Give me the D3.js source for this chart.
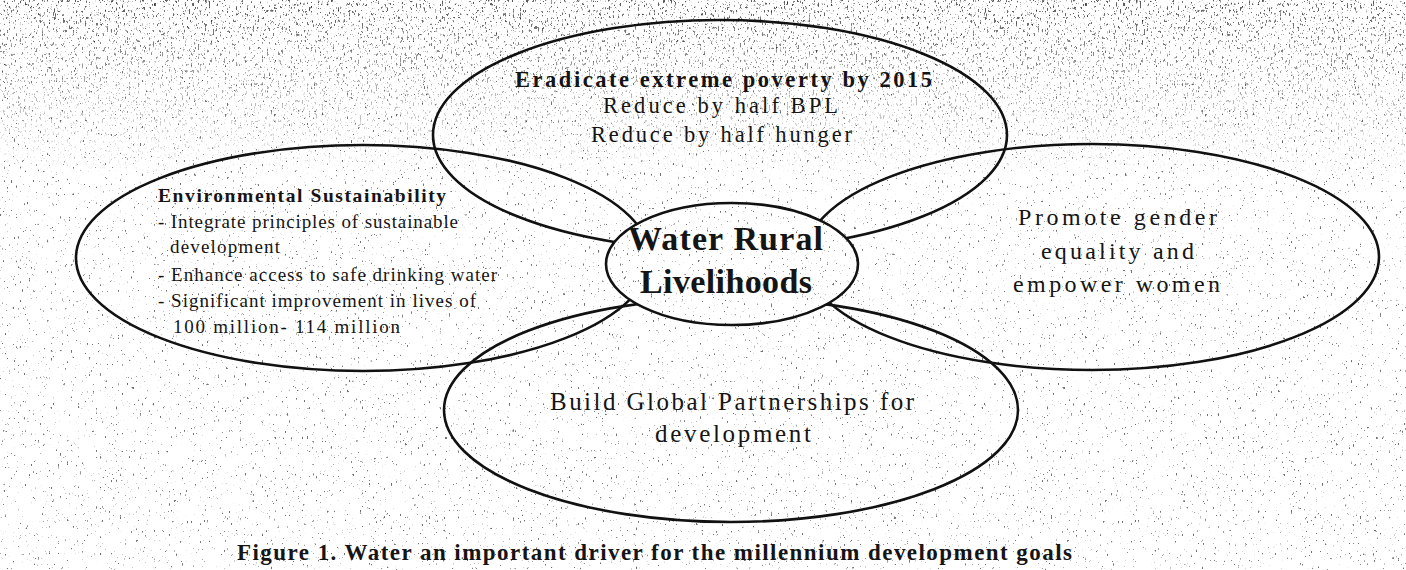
<!DOCTYPE html>
<html>
<head>
<meta charset="utf-8">
<script src="https://cdn.jsdelivr.net/npm/d3@7"></script>
<style>
  html, body { margin: 0; background: #fff; }
  svg { display: block; }
</style>
</head>
<body>
<div id="chart"></div>
<script>
// the four goal ellipses round the hub (diagram units = px of the scan)
const goals = ['poverty', 'environment', 'gender', 'partnership'];
const goalCx = [720, 363, 1092, 731];
const goalCy = [135, 258, 257, 410];
const goalRx = [287, 287, 287, 287];
const goalRy = [115, 113, 113, 112];

const hub = { cx: 732, cy: 264, rx: 126, ry: 61 };

const hubText = ['Water Rural', 'Livelihoods'];
const povertyText = ['Eradicate extreme poverty by 2015', 'Reduce by half BPL', 'Reduce by half hunger'];
const environmentText = [
  'Environmental Sustainability',
  '- Integrate principles of sustainable',
  'development',
  '- Enhance access to safe drinking water',
  '- Significant improvement in lives of',
  '100 million- 114 million'
];
const genderText = ['Promote gender', 'equality and', 'empower women'];
const partnershipText = ['Build Global Partnerships for', 'development'];
const caption = 'Figure 1. Water an important driver for the millennium development goals';

const width = 1406;
const height = 570;

const x = d3.scaleLinear().domain([0, 1406]).range([0, width]);
const y = d3.scaleLinear().domain([0, 570]).range([0, height]);

const svg = d3.select('#chart')
  .append('svg')
  .attr('width', width)
  .attr('height', height)
  .attr('viewBox', `0 0 ${width} ${height}`);

// scan speckle texture
const defs = svg.append('defs');
function speckFilter(id, seed, slope, cut) {
  const f = defs.append('filter').attr('id', id)
    .attr('filterUnits', 'userSpaceOnUse')
    .attr('x', 0).attr('y', 0).attr('width', width).attr('height', height);
  f.append('feTurbulence')
    .attr('type', 'fractalNoise')
    .attr('baseFrequency', '0.55 0.3')
    .attr('numOctaves', 2)
    .attr('seed', seed)
    .attr('result', 'n');
  f.append('feColorMatrix')
    .attr('in', 'n')
    .attr('type', 'matrix')
    .attr('values', '0 0 0 0 0  0 0 0 0 0  0 0 0 0 0  1 0 0 0 0');
  f.append('feComponentTransfer')
    .append('feFuncA')
    .attr('type', 'linear')
    .attr('slope', slope)
    .attr('intercept', -slope * cut);
}
speckFilter('speck', 7, 12, 0.70);
speckFilter('speckTop', 19, 12, 0.63);

const grad = defs.append('linearGradient').attr('id', 'topFade')
  .attr('x1', 0).attr('y1', 0).attr('x2', 0).attr('y2', 1);
grad.append('stop').attr('offset', 0).attr('stop-color', '#fff').attr('stop-opacity', 1);
grad.append('stop').attr('offset', 1).attr('stop-color', '#fff').attr('stop-opacity', 0);
defs.append('mask').attr('id', 'topMask')
  .append('rect').attr('x', 0).attr('y', 0).attr('width', width).attr('height', 180)
  .attr('fill', 'url(#topFade)');

svg.append('rect').attr('width', width).attr('height', height).attr('fill', '#fff');

// outer goal ellipses
const ring = svg.append('g').attr('class', 'goals');
ring.selectAll('ellipse')
  .data(goals)
  .join('ellipse')
  .attr('cx', (d, i) => x(goalCx[i]))
  .attr('cy', (d, i) => y(goalCy[i]))
  .attr('rx', (d, i) => x(goalRx[i]) - x(0))
  .attr('ry', (d, i) => y(goalRy[i]) - y(0))
  .attr('fill', 'none')
  .attr('stroke', '#111')
  .attr('stroke-width', 2.6);

// hub sits on top and hides the arcs behind it
svg.append('ellipse')
  .attr('cx', x(hub.cx))
  .attr('cy', y(hub.cy))
  .attr('rx', x(hub.rx) - x(0))
  .attr('ry', y(hub.ry) - y(0))
  .attr('fill', '#fff')
  .attr('stroke', '#111')
  .attr('stroke-width', 2.6);

// text blocks: [x start, x end, baseline, size, weight] per line
const serif = '"Liberation Serif", "DejaVu Serif", serif';
function block(lines, layout) {
  const g = svg.append('g');
  g.selectAll('text')
    .data(lines)
    .join('text')
    .attr('x', (d, i) => x(layout[i][0]))
    .attr('y', (d, i) => y(layout[i][2]))
    .attr('textLength', (d, i) => x(layout[i][1]) - x(layout[i][0]))
    .attr('lengthAdjust', 'spacing')
    .attr('font-family', serif)
    .attr('font-size', (d, i) => layout[i][3])
    .attr('font-weight', (d, i) => layout[i][4])
    .attr('fill', '#151515')
    .text(d => d);
}

block(povertyText, [
  [515, 932, 87, 22.5, 'bold'],
  [603, 838, 113, 22.5, 'normal'],
  [591, 852, 142, 22.5, 'normal']
]);

block(environmentText, [
  [158, 446, 202, 19.5, 'bold'],
  [158, 458, 228, 19, 'normal'],
  [170, 280, 253, 19, 'normal'],
  [158, 497, 281, 19, 'normal'],
  [158, 476, 307, 19, 'normal'],
  [173, 400, 333, 19, 'normal']
]);

block(hubText, [
  [628, 823, 250, 34, 'bold'],
  [640, 812, 293, 34, 'bold']
]);

block(genderText, [
  [1018, 1217, 225, 24, 'normal'],
  [1041, 1194, 259, 24, 'normal'],
  [1013, 1220, 292, 24, 'normal']
]);

block(partnershipText, [
  [550, 914, 410, 25, 'normal'],
  [655, 811, 442, 25, 'normal']
]);

block([caption], [[237, 1072, 560, 23, 'bold']]);

// speckle on top, like the photocopy grain
svg.append('rect')
  .attr('width', width).attr('height', height)
  .attr('filter', 'url(#speck)')
  .attr('opacity', 0.55)
  .style('pointer-events', 'none');
svg.append('g').attr('mask', 'url(#topMask)')
  .append('rect')
  .attr('width', width).attr('height', 180)
  .attr('filter', 'url(#speckTop)')
  .attr('opacity', 0.65)
  .style('pointer-events', 'none');
</script>
</body>
</html>
